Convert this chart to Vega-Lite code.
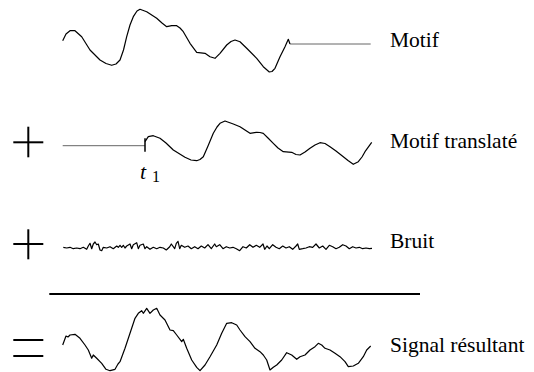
{
  "$schema": "https://vega.github.io/schema/vega-lite/v6.json",
  "width": 534,
  "height": 372,
  "autosize": {"type": "none"},
  "padding": 0,
  "background": "white",
  "config": {"view": {"stroke": null}},
  "datasets": {
    "curves": [
      {"s": "motif", "x": 62.7, "y": 40.7}, {"s": "motif", "x": 66, "y": 34}, {"s": "motif", "x": 70, "y": 30.7}, {"s": "motif", "x": 75, "y": 30.7}, {"s": "motif", "x": 81.7, "y": 36.7}, {"s": "motif", "x": 90, "y": 50}, {"s": "motif", "x": 100, "y": 60}, {"s": "motif", "x": 106, "y": 63.5}, {"s": "motif", "x": 111.7, "y": 65.3}, {"s": "motif", "x": 116, "y": 64}, {"s": "motif", "x": 120, "y": 60}, {"s": "motif", "x": 123.5, "y": 50}, {"s": "motif", "x": 126.7, "y": 36.7}, {"s": "motif", "x": 130, "y": 25}, {"s": "motif", "x": 133.3, "y": 16.7}, {"s": "motif", "x": 137, "y": 11}, {"s": "motif", "x": 140, "y": 9.3}, {"s": "motif", "x": 146.7, "y": 11.7}, {"s": "motif", "x": 156.7, "y": 18.3}, {"s": "motif", "x": 162, "y": 23}, {"s": "motif", "x": 166.7, "y": 26.7}, {"s": "motif", "x": 171.7, "y": 25.7}, {"s": "motif", "x": 176.7, "y": 25.7}, {"s": "motif", "x": 180, "y": 28}, {"s": "motif", "x": 183.3, "y": 31.7}, {"s": "motif", "x": 190, "y": 43.3}, {"s": "motif", "x": 196.7, "y": 52.3}, {"s": "motif", "x": 205, "y": 53.3}, {"s": "motif", "x": 210, "y": 56.7}, {"s": "motif", "x": 215, "y": 58.3}, {"s": "motif", "x": 220, "y": 53.3}, {"s": "motif", "x": 226.7, "y": 45}, {"s": "motif", "x": 231, "y": 41.5}, {"s": "motif", "x": 235, "y": 40}, {"s": "motif", "x": 240, "y": 41.7}, {"s": "motif", "x": 246.7, "y": 48.3}, {"s": "motif", "x": 256.7, "y": 58.3}, {"s": "motif", "x": 263.3, "y": 66.7}, {"s": "motif", "x": 269.3, "y": 72}, {"s": "motif", "x": 272, "y": 71.5}, {"s": "motif", "x": 275, "y": 68.3}, {"s": "motif", "x": 280, "y": 56.7}, {"s": "motif", "x": 285, "y": 46.7}, {"s": "motif", "x": 288.3, "y": 39.3}, {"s": "motif", "x": 290, "y": 44},

      {"s": "trans", "x": 145, "y": 141.7}, {"s": "trans", "x": 148.3, "y": 136.7}, {"s": "trans", "x": 153.3, "y": 135.7}, {"s": "trans", "x": 160, "y": 138.3}, {"s": "trans", "x": 166, "y": 143}, {"s": "trans", "x": 173.3, "y": 150}, {"s": "trans", "x": 185, "y": 157.3}, {"s": "trans", "x": 191, "y": 160}, {"s": "trans", "x": 196.7, "y": 160.7}, {"s": "trans", "x": 200, "y": 159.5}, {"s": "trans", "x": 203.3, "y": 156.7}, {"s": "trans", "x": 208, "y": 146}, {"s": "trans", "x": 213.3, "y": 133.3}, {"s": "trans", "x": 217, "y": 127}, {"s": "trans", "x": 220, "y": 123.3}, {"s": "trans", "x": 225, "y": 121}, {"s": "trans", "x": 233.3, "y": 124}, {"s": "trans", "x": 240, "y": 126.7}, {"s": "trans", "x": 245, "y": 130}, {"s": "trans", "x": 250, "y": 133.3}, {"s": "trans", "x": 256.7, "y": 132.3}, {"s": "trans", "x": 260, "y": 132.5}, {"s": "trans", "x": 263.3, "y": 133.3}, {"s": "trans", "x": 268, "y": 138}, {"s": "trans", "x": 273.3, "y": 143.3}, {"s": "trans", "x": 278, "y": 148}, {"s": "trans", "x": 283.3, "y": 151.7}, {"s": "trans", "x": 291.7, "y": 152.3}, {"s": "trans", "x": 296, "y": 154.5}, {"s": "trans", "x": 300, "y": 155}, {"s": "trans", "x": 305, "y": 152}, {"s": "trans", "x": 310, "y": 148.3}, {"s": "trans", "x": 315, "y": 145}, {"s": "trans", "x": 320, "y": 142.7}, {"s": "trans", "x": 325, "y": 143.5}, {"s": "trans", "x": 330, "y": 146.7}, {"s": "trans", "x": 336, "y": 151}, {"s": "trans", "x": 343.3, "y": 156.7}, {"s": "trans", "x": 348, "y": 160.5}, {"s": "trans", "x": 353.3, "y": 164.3}, {"s": "trans", "x": 358.3, "y": 161.7}, {"s": "trans", "x": 362, "y": 157}, {"s": "trans", "x": 365, "y": 151.7}, {"s": "trans", "x": 371.7, "y": 142.3},

      {"s": "noise", "x": 63.3, "y": 247.3}, {"s": "noise", "x": 66.7, "y": 248}, {"s": "noise", "x": 70, "y": 247.3}, {"s": "noise", "x": 73.3, "y": 248.7}, {"s": "noise", "x": 76.7, "y": 248}, {"s": "noise", "x": 80, "y": 248.7}, {"s": "noise", "x": 83.3, "y": 247.3}, {"s": "noise", "x": 86.7, "y": 249.3}, {"s": "noise", "x": 88.3, "y": 246}, {"s": "noise", "x": 90, "y": 243.3}, {"s": "noise", "x": 91.7, "y": 248.7}, {"s": "noise", "x": 93.3, "y": 244}, {"s": "noise", "x": 95, "y": 242}, {"s": "noise", "x": 96.7, "y": 244.7}, {"s": "noise", "x": 98.3, "y": 244}, {"s": "noise", "x": 100, "y": 250}, {"s": "noise", "x": 101.7, "y": 250.7}, {"s": "noise", "x": 103.3, "y": 247.3}, {"s": "noise", "x": 106.7, "y": 248}, {"s": "noise", "x": 110, "y": 246.7}, {"s": "noise", "x": 113.3, "y": 248.7}, {"s": "noise", "x": 116.7, "y": 246}, {"s": "noise", "x": 118.3, "y": 247.3}, {"s": "noise", "x": 120, "y": 245.3}, {"s": "noise", "x": 121.7, "y": 247.3}, {"s": "noise", "x": 123.3, "y": 245.3}, {"s": "noise", "x": 125, "y": 248}, {"s": "noise", "x": 126.7, "y": 246}, {"s": "noise", "x": 130, "y": 244}, {"s": "noise", "x": 131.7, "y": 248.7}, {"s": "noise", "x": 133.3, "y": 244.7}, {"s": "noise", "x": 136.7, "y": 242.7}, {"s": "noise", "x": 138.3, "y": 248.7}, {"s": "noise", "x": 140, "y": 245.3}, {"s": "noise", "x": 143.3, "y": 244}, {"s": "noise", "x": 145, "y": 248.7}, {"s": "noise", "x": 146.7, "y": 246.7}, {"s": "noise", "x": 150, "y": 249.3}, {"s": "noise", "x": 153.3, "y": 247.3}, {"s": "noise", "x": 156.7, "y": 248.7}, {"s": "noise", "x": 160, "y": 247.3}, {"s": "noise", "x": 163.3, "y": 248}, {"s": "noise", "x": 166.3, "y": 250}, {"s": "noise", "x": 169.7, "y": 246.7}, {"s": "noise", "x": 171.3, "y": 244}, {"s": "noise", "x": 174.7, "y": 248.7}, {"s": "noise", "x": 176.3, "y": 243.3}, {"s": "noise", "x": 178, "y": 241.3}, {"s": "noise", "x": 179.7, "y": 248.7}, {"s": "noise", "x": 181.3, "y": 245.3}, {"s": "noise", "x": 184.7, "y": 247.3}, {"s": "noise", "x": 188, "y": 246}, {"s": "noise", "x": 191.3, "y": 248.7}, {"s": "noise", "x": 194.7, "y": 246.7}, {"s": "noise", "x": 198, "y": 248.7}, {"s": "noise", "x": 201.3, "y": 246}, {"s": "noise", "x": 204.7, "y": 248}, {"s": "noise", "x": 208, "y": 244.7}, {"s": "noise", "x": 211.3, "y": 248.7}, {"s": "noise", "x": 214.7, "y": 244}, {"s": "noise", "x": 216.3, "y": 246.7}, {"s": "noise", "x": 219.7, "y": 244.7}, {"s": "noise", "x": 223, "y": 248.7}, {"s": "noise", "x": 226.3, "y": 246.7}, {"s": "noise", "x": 229.7, "y": 248}, {"s": "noise", "x": 233, "y": 247.3}, {"s": "noise", "x": 236.3, "y": 248.7}, {"s": "noise", "x": 239.7, "y": 250.7}, {"s": "noise", "x": 243, "y": 246.7}, {"s": "noise", "x": 246.3, "y": 248}, {"s": "noise", "x": 249.7, "y": 244.7}, {"s": "noise", "x": 253, "y": 247.3}, {"s": "noise", "x": 256.3, "y": 245.3}, {"s": "noise", "x": 259.7, "y": 247.3}, {"s": "noise", "x": 263, "y": 244}, {"s": "noise", "x": 264.7, "y": 249.3}, {"s": "noise", "x": 267, "y": 246}, {"s": "noise", "x": 269.3, "y": 248.7}, {"s": "noise", "x": 272.7, "y": 244.7}, {"s": "noise", "x": 276, "y": 247.3}, {"s": "noise", "x": 279.3, "y": 248.7}, {"s": "noise", "x": 282.7, "y": 246}, {"s": "noise", "x": 286, "y": 248}, {"s": "noise", "x": 289.3, "y": 246.7}, {"s": "noise", "x": 292.7, "y": 249.3}, {"s": "noise", "x": 296, "y": 246}, {"s": "noise", "x": 297.7, "y": 244}, {"s": "noise", "x": 299.3, "y": 249.3}, {"s": "noise", "x": 302.7, "y": 248.7}, {"s": "noise", "x": 306, "y": 248}, {"s": "noise", "x": 309.3, "y": 246.7}, {"s": "noise", "x": 312.7, "y": 247.3}, {"s": "noise", "x": 316, "y": 244}, {"s": "noise", "x": 319.3, "y": 248}, {"s": "noise", "x": 322.7, "y": 246}, {"s": "noise", "x": 326, "y": 249.3}, {"s": "noise", "x": 329.3, "y": 245.3}, {"s": "noise", "x": 332.7, "y": 246.7}, {"s": "noise", "x": 336, "y": 248.7}, {"s": "noise", "x": 339.3, "y": 247.3}, {"s": "noise", "x": 342.7, "y": 244.7}, {"s": "noise", "x": 346, "y": 246}, {"s": "noise", "x": 349.3, "y": 248.7}, {"s": "noise", "x": 352.7, "y": 246.7}, {"s": "noise", "x": 356, "y": 248}, {"s": "noise", "x": 359.3, "y": 247.3}, {"s": "noise", "x": 362.7, "y": 248.7}, {"s": "noise", "x": 366, "y": 248}, {"s": "noise", "x": 369.3, "y": 248.7}, {"s": "noise", "x": 372, "y": 248.3},

      {"s": "signal", "x": 62.7, "y": 345}, {"s": "signal", "x": 66, "y": 336}, {"s": "signal", "x": 68, "y": 337}, {"s": "signal", "x": 70, "y": 335}, {"s": "signal", "x": 75, "y": 334.3}, {"s": "signal", "x": 80, "y": 338.3}, {"s": "signal", "x": 85, "y": 345}, {"s": "signal", "x": 88.3, "y": 350}, {"s": "signal", "x": 91.7, "y": 358.3}, {"s": "signal", "x": 93.3, "y": 355}, {"s": "signal", "x": 96.7, "y": 358.3}, {"s": "signal", "x": 101.7, "y": 363.3}, {"s": "signal", "x": 106, "y": 369.3}, {"s": "signal", "x": 110, "y": 370.7}, {"s": "signal", "x": 115, "y": 369.3}, {"s": "signal", "x": 118, "y": 364}, {"s": "signal", "x": 120, "y": 361.7}, {"s": "signal", "x": 125, "y": 348.3}, {"s": "signal", "x": 130, "y": 333.3}, {"s": "signal", "x": 135, "y": 318.3}, {"s": "signal", "x": 138.3, "y": 313.3}, {"s": "signal", "x": 141.7, "y": 310.7}, {"s": "signal", "x": 143.3, "y": 313.3}, {"s": "signal", "x": 146.7, "y": 308.3}, {"s": "signal", "x": 150, "y": 313.3}, {"s": "signal", "x": 153.3, "y": 310}, {"s": "signal", "x": 156.7, "y": 308.3}, {"s": "signal", "x": 160, "y": 315}, {"s": "signal", "x": 165, "y": 320}, {"s": "signal", "x": 170, "y": 330}, {"s": "signal", "x": 173.3, "y": 330.7}, {"s": "signal", "x": 176.7, "y": 335}, {"s": "signal", "x": 181.7, "y": 341.7}, {"s": "signal", "x": 183.3, "y": 339.3}, {"s": "signal", "x": 186.7, "y": 348.3}, {"s": "signal", "x": 191.7, "y": 360}, {"s": "signal", "x": 196.7, "y": 367.3}, {"s": "signal", "x": 200, "y": 370.7}, {"s": "signal", "x": 205, "y": 365}, {"s": "signal", "x": 210, "y": 356.7}, {"s": "signal", "x": 216.7, "y": 345}, {"s": "signal", "x": 221.7, "y": 333.3}, {"s": "signal", "x": 226.7, "y": 323.3}, {"s": "signal", "x": 231.7, "y": 322.7}, {"s": "signal", "x": 236.7, "y": 325}, {"s": "signal", "x": 240, "y": 330}, {"s": "signal", "x": 245, "y": 336.7}, {"s": "signal", "x": 250, "y": 341.7}, {"s": "signal", "x": 255, "y": 348.3}, {"s": "signal", "x": 260, "y": 351.7}, {"s": "signal", "x": 263.3, "y": 355}, {"s": "signal", "x": 266.7, "y": 360}, {"s": "signal", "x": 270, "y": 370}, {"s": "signal", "x": 273.3, "y": 367.3}, {"s": "signal", "x": 276.7, "y": 365}, {"s": "signal", "x": 281.7, "y": 360}, {"s": "signal", "x": 286.7, "y": 352.7}, {"s": "signal", "x": 291.7, "y": 355}, {"s": "signal", "x": 296.7, "y": 359.3}, {"s": "signal", "x": 300, "y": 356.7}, {"s": "signal", "x": 305, "y": 355}, {"s": "signal", "x": 310, "y": 350}, {"s": "signal", "x": 315, "y": 346.7}, {"s": "signal", "x": 318.3, "y": 343.3}, {"s": "signal", "x": 321.7, "y": 345}, {"s": "signal", "x": 325, "y": 348.3}, {"s": "signal", "x": 330, "y": 350}, {"s": "signal", "x": 335, "y": 353.3}, {"s": "signal", "x": 340, "y": 356.7}, {"s": "signal", "x": 345, "y": 361.7}, {"s": "signal", "x": 348.3, "y": 366.7}, {"s": "signal", "x": 353.3, "y": 366}, {"s": "signal", "x": 358.3, "y": 363.3}, {"s": "signal", "x": 363.3, "y": 356.7}, {"s": "signal", "x": 366.7, "y": 350}, {"s": "signal", "x": 370.7, "y": 346}
    ],
    "flats": [
      {"s": "motif", "x": 290, "y": 44}, {"s": "motif", "x": 370.7, "y": 44},
      {"s": "trans", "x": 62.7, "y": 145.7}, {"s": "trans", "x": 145, "y": 145.7}
    ],
    "signs": [
      {"x": 13.3, "x2": 43.3, "y": 142.3, "y2": 142.3},
      {"x": 28.3, "x2": 28.3, "y": 126.7, "y2": 157.3},
      {"x": 13.3, "x2": 43.3, "y": 244, "y2": 244},
      {"x": 28.3, "x2": 28.3, "y": 229.3, "y2": 259.3},
      {"x": 13.3, "x2": 43.3, "y": 340, "y2": 340},
      {"x": 13.3, "x2": 43.3, "y": 356, "y2": 356},
      {"x": 49.3, "x2": 420, "y": 294, "y2": 294}
    ],
    "tick": [{"x": 145, "x2": 145, "y": 138.3, "y2": 151.7}],
    "labels": [
      {"label": "Motif", "x": 390, "y": 47},
      {"label": "Motif translaté", "x": 390, "y": 147.7},
      {"label": "Bruit", "x": 390, "y": 248},
      {"label": "Signal résultant", "x": 390, "y": 352}
    ],
    "tlabel": [{"label": "t", "x": 140, "y": 178.5}],
    "sublabel": [{"label": "1", "x": 152, "y": 181.5}]
  },
  "layer": [
    {
      "data": {"name": "flats"},
      "mark": {"type": "line", "color": "#555555", "strokeWidth": 0.9},
      "encoding": {
        "x": {"field": "x", "type": "quantitative", "scale": {"domain": [0, 534], "nice": false, "zero": false}, "axis": null},
        "y": {"field": "y", "type": "quantitative", "scale": {"domain": [0, 372], "nice": false, "zero": false, "reverse": true}, "axis": null},
        "detail": {"field": "s"}
      }
    },
    {
      "data": {"name": "curves"},
      "mark": {"type": "line", "color": "black", "strokeWidth": 1.2, "strokeJoin": "round"},
      "encoding": {
        "x": {"field": "x", "type": "quantitative", "scale": {"domain": [0, 534], "nice": false, "zero": false}, "axis": null},
        "y": {"field": "y", "type": "quantitative", "scale": {"domain": [0, 372], "nice": false, "zero": false, "reverse": true}, "axis": null},
        "detail": {"field": "s"}
      }
    },
    {
      "data": {"name": "signs"},
      "mark": {"type": "rule", "color": "black", "strokeWidth": 2},
      "encoding": {
        "x": {"field": "x", "type": "quantitative", "scale": {"domain": [0, 534], "nice": false, "zero": false}, "axis": null},
        "x2": {"field": "x2"},
        "y": {"field": "y", "type": "quantitative", "scale": {"domain": [0, 372], "nice": false, "zero": false, "reverse": true}, "axis": null},
        "y2": {"field": "y2"}
      }
    },
    {
      "data": {"name": "tick"},
      "mark": {"type": "rule", "color": "black", "strokeWidth": 1.5},
      "encoding": {
        "x": {"field": "x", "type": "quantitative", "scale": {"domain": [0, 534], "nice": false, "zero": false}, "axis": null},
        "x2": {"field": "x2"},
        "y": {"field": "y", "type": "quantitative", "scale": {"domain": [0, 372], "nice": false, "zero": false, "reverse": true}, "axis": null},
        "y2": {"field": "y2"}
      }
    },
    {
      "data": {"name": "labels"},
      "mark": {"type": "text", "align": "left", "baseline": "alphabetic", "font": "Liberation Serif", "fontSize": 21.5, "color": "black"},
      "encoding": {
        "x": {"field": "x", "type": "quantitative", "scale": {"domain": [0, 534], "nice": false, "zero": false}, "axis": null},
        "y": {"field": "y", "type": "quantitative", "scale": {"domain": [0, 372], "nice": false, "zero": false, "reverse": true}, "axis": null},
        "text": {"field": "label"}
      }
    },
    {
      "data": {"name": "tlabel"},
      "mark": {"type": "text", "align": "left", "baseline": "alphabetic", "font": "Liberation Serif", "fontStyle": "italic", "fontSize": 22, "color": "black"},
      "encoding": {
        "x": {"field": "x", "type": "quantitative", "scale": {"domain": [0, 534], "nice": false, "zero": false}, "axis": null},
        "y": {"field": "y", "type": "quantitative", "scale": {"domain": [0, 372], "nice": false, "zero": false, "reverse": true}, "axis": null},
        "text": {"field": "label"}
      }
    },
    {
      "data": {"name": "sublabel"},
      "mark": {"type": "text", "align": "left", "baseline": "alphabetic", "font": "Liberation Serif", "fontSize": 16, "color": "black"},
      "encoding": {
        "x": {"field": "x", "type": "quantitative", "scale": {"domain": [0, 534], "nice": false, "zero": false}, "axis": null},
        "y": {"field": "y", "type": "quantitative", "scale": {"domain": [0, 372], "nice": false, "zero": false, "reverse": true}, "axis": null},
        "text": {"field": "label"}
      }
    }
  ]
}
